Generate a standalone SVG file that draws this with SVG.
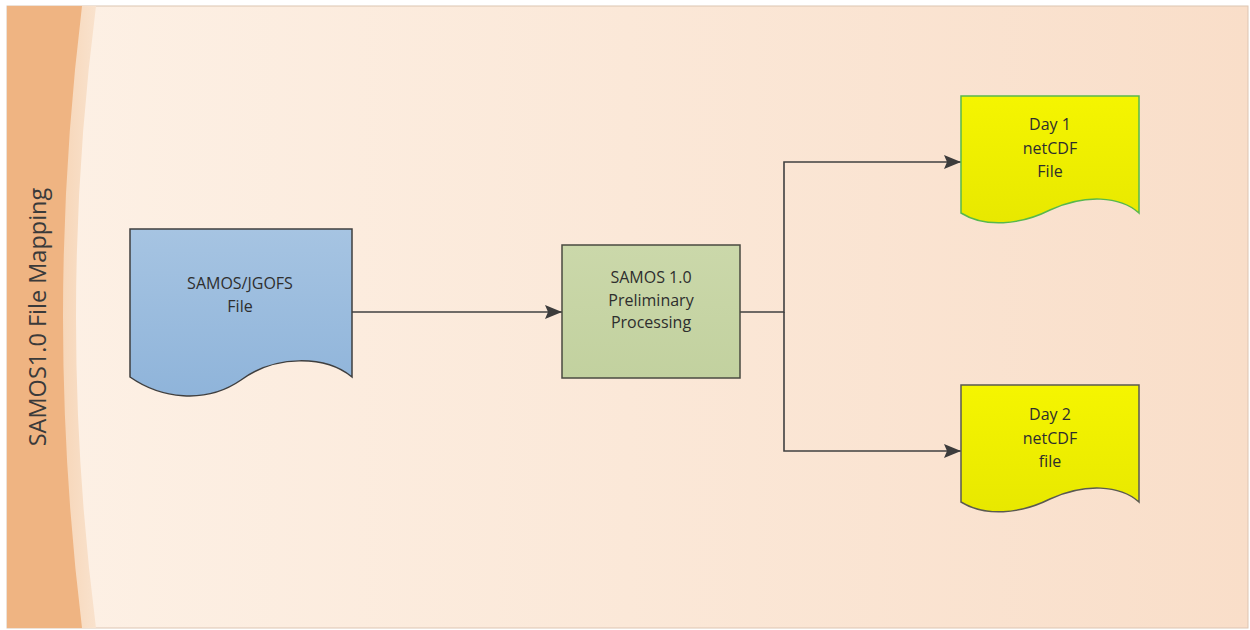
<svg xmlns="http://www.w3.org/2000/svg" width="1250" height="630" viewBox="0 0 1250 630">
  <defs>
    <linearGradient id="bg" x1="0" y1="0" x2="1" y2="0">
      <stop offset="0" stop-color="#fdf1e6"/>
      <stop offset="0.5" stop-color="#fbe8d8"/>
      <stop offset="1" stop-color="#f9dec9"/>
    </linearGradient>
    <linearGradient id="stripe" x1="0" y1="0" x2="1" y2="0">
      <stop offset="0" stop-color="#f2c397"/>
      <stop offset="1" stop-color="#f9e2cd"/>
    </linearGradient>
    <linearGradient id="blueFill" x1="0" y1="0" x2="0" y2="1">
      <stop offset="0" stop-color="#a6c4e2"/>
      <stop offset="1" stop-color="#8fb4da"/>
    </linearGradient>
    <linearGradient id="greenFill" x1="0" y1="0" x2="0" y2="1">
      <stop offset="0" stop-color="#cbd8aa"/>
      <stop offset="1" stop-color="#c2d19f"/>
    </linearGradient>
    <linearGradient id="yellowFill" x1="0" y1="0" x2="0" y2="1">
      <stop offset="0" stop-color="#f5f500"/>
      <stop offset="1" stop-color="#e8e800"/>
    </linearGradient>
    <marker id="arrow" markerUnits="userSpaceOnUse" markerWidth="17" markerHeight="14" refX="17" refY="7" orient="auto">
      <path d="M0,0 L17,7 L0,14 L3,7 Z" fill="#3c3c3c"/>
    </marker>
  </defs>
  <style>
    .label { font-family: "Open Sans", "Liberation Sans", sans-serif; font-size: 16px; fill: #2e2e2e; text-anchor: middle; }
    .title { font-family: "Open Sans", "Liberation Sans", sans-serif; font-size: 23.5px; fill: #3a3a3a; text-anchor: middle; }
    .conn { fill: none; stroke: #404040; stroke-width: 1.6; }
    .shape { stroke-width: 1.5; }
  </style>

  <!-- page frame -->
  <rect x="0" y="0" width="1250" height="630" fill="#ffffff"/>
  <rect x="7" y="6" width="1241" height="622" fill="url(#bg)" stroke="#dcc5b2" stroke-width="1"/>

  <!-- title band with curved edge -->
  <path d="M7,6 L96,6 Q56,317 96,628 L7,628 Z" fill="url(#stripe)"/>
  <path d="M7,6 L82,6 Q44,317 82,628 L7,628 Z" fill="#efb482"/>
  <text class="title" transform="translate(46,317) rotate(-90)">SAMOS1.0 File Mapping</text>

  <!-- connectors -->
  <g id="connectors">
    <path class="conn" d="M352,312 H562" marker-end="url(#arrow)"/>
    <path class="conn" d="M740,312 H784 V162 H961" marker-end="url(#arrow)"/>
    <path class="conn" d="M784,312 V451 H961" marker-end="url(#arrow)"/>
  </g>

  <!-- source document -->
  <g id="samos-jgofs-file">
    <path class="shape" d="M130,229 H352 V377 C325,355 275,355 241,380 C205,405 160,398 130,377 Z" fill="url(#blueFill)" stroke="#3f3f3f"/>
    <text class="label" x="240" y="289">SAMOS/JGOFS</text>
    <text class="label" x="240" y="311.5">File</text>
  </g>

  <!-- processing step -->
  <g id="preliminary-processing">
    <rect class="shape" x="562" y="245" width="178" height="133" fill="url(#greenFill)" stroke="#4a4a40"/>
    <text class="label" x="651" y="283">SAMOS 1.0</text>
    <text class="label" x="651" y="305.5">Preliminary</text>
    <text class="label" x="651" y="328">Processing</text>
  </g>

  <!-- output documents -->
  <g id="day1-netcdf">
    <path class="shape" d="M961,96 H1139 V213 C1120,196 1085,194 1050,210 C1020,225 985,228 961,213 Z" fill="url(#yellowFill)" stroke="#58b84c"/>
    <text class="label" x="1050" y="130">Day 1</text>
    <text class="label" x="1050" y="153.5">netCDF</text>
    <text class="label" x="1050" y="177">File</text>
  </g>

  <g id="day2-netcdf">
    <path class="shape" d="M961,385 H1139 V502 C1120,485 1085,483 1050,499 C1020,514 985,517 961,502 Z" fill="url(#yellowFill)" stroke="#5a5a50"/>
    <text class="label" x="1050" y="420">Day 2</text>
    <text class="label" x="1050" y="443.5">netCDF</text>
    <text class="label" x="1050" y="467">file</text>
  </g>
</svg>
